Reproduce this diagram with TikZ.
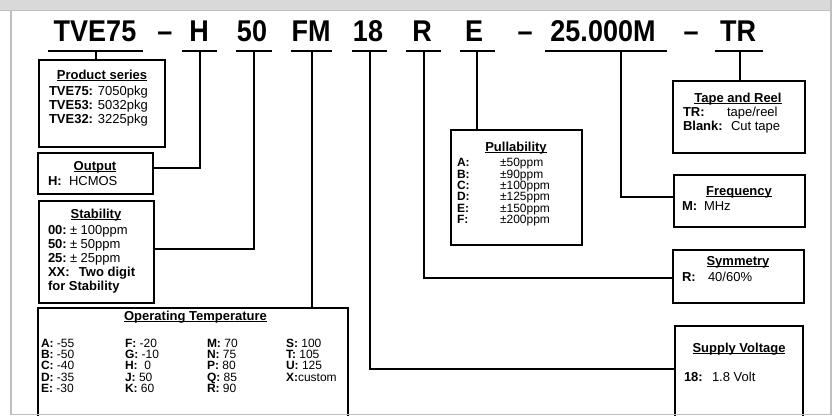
\documentclass[tikz,border=0pt]{standalone}
\usepackage{fontspec}
\setmainfont{Liberation Sans}
\newfontfamily\hdr[FakeStretch=0.9]{Liberation Sans}
\newcommand\ult[1]{\underline{\smash{#1}}}
\newcommand\lk[2]{\makebox[#1][l]{\textbf{#2}}}
\tikzset{
  lbl/.style={inner sep=0pt, outer sep=0pt, anchor=base west, font=\fontsize{13}{14}\selectfont},
  ttl/.style={inner sep=0pt, outer sep=0pt, anchor=base, font=\bfseries\fontsize{13}{14}\selectfont},
  sml/.style={inner sep=0pt, outer sep=0pt, anchor=base west, font=\fontsize{12}{10}\selectfont},
  smp/.style={inner sep=0pt, outer sep=0pt, anchor=base west, font=\fontsize{12}{10.4}\selectfont},
  hd/.style={inner sep=0pt, outer sep=0pt, anchor=base, font=\hdr\bfseries\fontsize{30}{30}\selectfont},
  box/.style={draw, line width=2pt, inner sep=0pt, outer sep=0pt, anchor=north west},
  bar/.style={line width=2.6pt},
  conn/.style={line width=1.3pt},
  frame/.style={draw=black!25, line width=1.5pt}
}
\begin{document}
\begin{tikzpicture}[x=1pt,y=-1pt]
\useasboundingbox (0,0) rectangle (837,415);
\clip (0,0) rectangle (837,415);
% frame
\fill[black!15] (0,0) rectangle (832,10.5);
\draw[frame] (0,10.5) -- (832,10.5);
\draw[frame] (11,10.5) -- (11,415);
\draw[frame] (831,0) -- (831,415);

% header tokens
\node[hd] (hTVE) at (95,41) {TVE75};
\node[hd] (hd1) at (165,41) {–};
\node[hd] (hH) at (199,41) {H};
\node[hd] (h50) at (252,41) {50};
\node[hd] (hFM) at (311,41) {FM};
\node[hd] (h18) at (368,41) {18};
\node[hd] (hR) at (422,41) {R};
\node[hd] (hE) at (474,41) {E};
\node[hd] (hd2) at (525,41) {–};
\node[hd] (hF) at (603,41) {25.000M};
\node[hd] (hd3) at (691,41) {–};
\node[hd] (hTR) at (738,41) {TR};

% bars
\draw[bar] (48,51) -- (143,51);
\draw[bar] (182,51) -- (217,51);
\draw[bar] (236,51) -- (272,51);
\draw[bar] (291,51) -- (332,51);
\draw[bar] (352,51) -- (387,51);
\draw[bar] (406,51) -- (441,51);
\draw[bar] (460,51) -- (495,51);
\draw[bar] (545,51) -- (667,51);
\draw[bar] (715,51) -- (763,51);

\coordinate (cT) at (96,51);
\coordinate (cH) at (200,51);
\coordinate (c50) at (254,51);
\coordinate (cFM) at (312,51);
\coordinate (c18) at (370,51);
\coordinate (cR) at (424,51);
\coordinate (cE) at (477,51);
\coordinate (cF) at (621,51);
\coordinate (cTR) at (740,51);

% boxes
\node[box, minimum width=126pt, minimum height=87pt] (ps) at (39,60) {};
\node[box, minimum width=115pt, minimum height=41pt] (out) at (38,153) {};
\node[box, minimum width=115pt, minimum height=102pt] (stab) at (39,201) {};
\node[box, minimum width=310pt, minimum height=120pt] (temp) at (38,308) {};
\node[box, minimum width=131pt, minimum height=115pt] (pull) at (451,130) {};
\node[box, minimum width=132pt, minimum height=72pt] (tape) at (673,81) {};
\node[box, minimum width=131pt, minimum height=52pt] (freq) at (674,175) {};
\node[box, minimum width=131pt, minimum height=53pt] (sym) at (673,250) {};
\node[box, minimum width=128pt, minimum height=100pt] (sup) at (675,326) {};

% connectors
\coordinate (kH) at (200,168);
\coordinate (k50) at (254,249);
\coordinate (k18) at (370,369);
\coordinate (kR) at (424,278);
\coordinate (kF) at (621,197);
\draw[conn] (cT) -- (cT |- ps.north);
\draw[conn] (cH) -- (kH) -- (kH -| out.east);
\draw[conn] (c50) -- (k50) -- (k50 -| stab.east);
\draw[conn] (cFM) -- (cFM |- temp.north);
\draw[conn] (c18) -- (k18) -- (k18 -| sup.west);
\draw[conn] (cR) -- (kR) -- (kR -| sym.west);
\draw[conn] (cE) -- (cE |- pull.north);
\draw[conn] (cF) -- (kF) -- (kF -| freq.west);
\draw[conn] (cTR) -- (cTR |- tape.north);

% Product series
\node[ttl] (psT) at (102,79) {\ult{Product series}};
\node[lbl] (ps1) at (49,95) {\textbf{TVE75:} 7050pkg};
\node[lbl] (ps2) at (49,109) {\textbf{TVE53:} 5032pkg};
\node[lbl] (ps3) at (49,123) {\textbf{TVE32:} 3225pkg};

% Output
\node[ttl] (outT) at (95,170) {\ult{Output}};
\node[lbl] (out1) at (48,185) {\lk{21pt}{H:}HCMOS};

% Stability
\node[ttl] (stT) at (96,218) {\ult{Stability}};
\node[lbl] (st1) at (48,234) {\lk{22pt}{00:}± 100ppm};
\node[lbl] (st2) at (48,248.2) {\lk{22pt}{50:}± 50ppm};
\node[lbl] (st3) at (48,262.4) {\lk{22pt}{25:}± 25ppm};
\node[lbl] (st4) at (48,276.6) {\textbf{\makebox[31pt][l]{XX:}Two digit}};
\node[lbl] (st5) at (48,290.8) {\textbf{for Stability}};

% Operating temperature
\node[ttl] (tmT) at (195.5,320) {\ult{Operating Temperature}};
\node[sml] (ta) at (41,347) {\begin{tabular}[t]{@{}l@{}}
  \textbf{A:} -55\\ \textbf{B:} -50\\ \textbf{C:} -40\\ \textbf{D:} -35\\ \textbf{E:} -30\end{tabular}};
\node[sml] (tb) at (125,347) {\begin{tabular}[t]{@{}l@{}}
  \textbf{F:} -20\\ \textbf{G:} -10\\ \textbf{H:}\ \ 0\\ \textbf{J:} 50\\ \textbf{K:} 60\end{tabular}};
\node[sml] (tc) at (207,347) {\begin{tabular}[t]{@{}l@{}}
  \textbf{M:} 70\\ \textbf{N:} 75\\ \textbf{P:} 80\\ \textbf{Q:} 85\\ \textbf{R:} 90\end{tabular}};
\node[sml] (td) at (286,347) {\begin{tabular}[t]{@{}l@{}}
  \textbf{S:} 100\\ \textbf{T:} 105\\ \textbf{U:} 125\\ \textbf{X:}custom\end{tabular}};

% Pullability
\node[ttl] (plT) at (516,151) {\ult{Pullability}};
\node[smp] (pl) at (457,166.5) {\begin{tabular}[t]{@{}l@{}}
  \lk{43pt}{A:}±50ppm\\ \lk{43pt}{B:}±90ppm\\ \lk{43pt}{C:}±100ppm\\
  \lk{43pt}{D:}±125ppm\\ \lk{43pt}{E:}±150ppm\\ \lk{43pt}{F:}±200ppm\end{tabular}};

% Tape and Reel
\node[ttl] (tpT) at (738,102) {\ult{Tape and Reel}};
\node[lbl] (tp1) at (683,116.5) {\lk{44pt}{TR:}tape/reel};
\node[lbl] (tp2) at (683,130.5) {\lk{48pt}{Blank:}Cut tape};

% Frequency
\node[ttl] (frT) at (739,195) {\ult{Frequency}};
\node[lbl] (fr1) at (682,210) {\lk{22pt}{M:}MHz};

% Symmetry
\node[ttl] (syT) at (738,265) {\ult{Symmetry}};
\node[lbl] (sy1) at (682,281) {\lk{26pt}{R:}40/60\%};

% Supply Voltage
\node[ttl] (svT) at (739,352) {\ult{Supply Voltage}};
\node[lbl] (sv1) at (684,381) {\lk{28pt}{18:}1.8 Volt};

\draw[black!25, line width=1pt] (11,414) -- (831,414);
\end{tikzpicture}
\end{document}
